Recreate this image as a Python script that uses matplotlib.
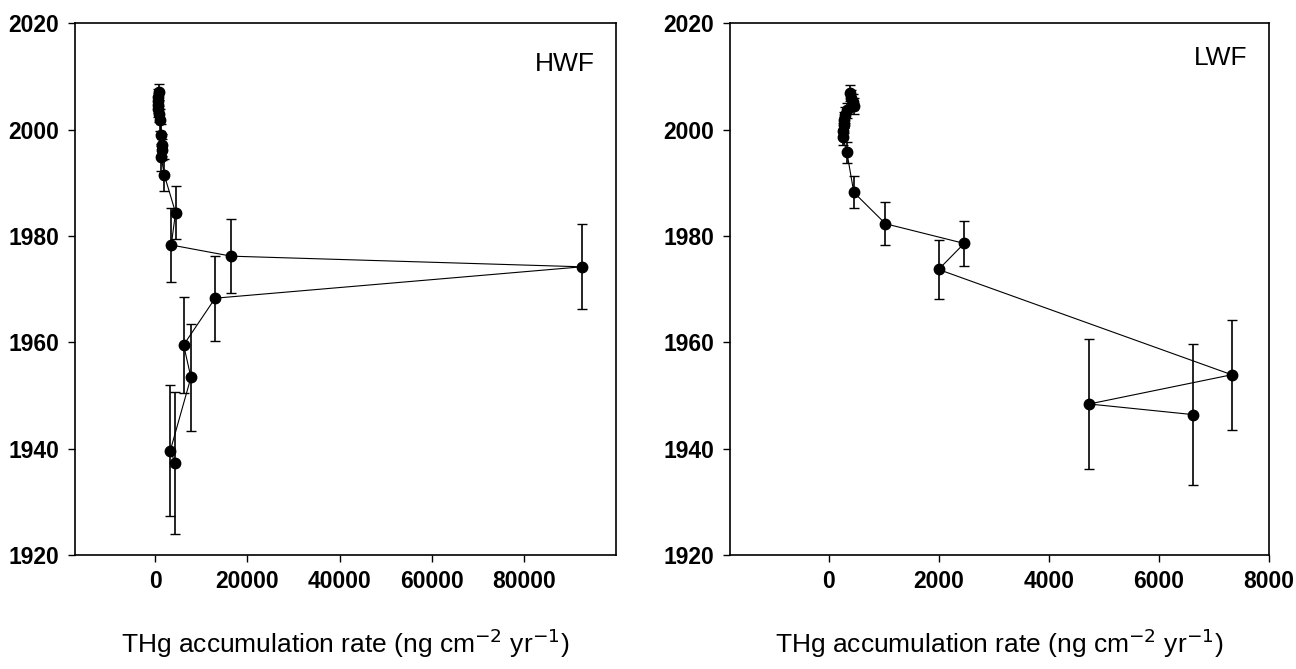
import numpy as np
import matplotlib
matplotlib.use("Agg")
import matplotlib.pyplot as plt

# HWF core
hwf_year = [2007.0, 2006.2, 2005.4, 2004.6, 2003.8, 2003.0, 2001.8, 1999.0, 1997.1, 1996.2,
            1994.8, 1991.5, 1984.4, 1978.3, 1976.2, 1974.2, 1968.3, 1959.5, 1953.4, 1939.6, 1937.3]
hwf_rate = [800, 700, 650, 600, 650, 750, 1100, 1300, 1450, 1450,
            1300, 1950, 4400, 3470, 16500, 92600, 13000, 6150, 7740, 3250, 4340]
hwf_err = [1.5, 1.5, 1.5, 1.5, 1.5, 1.5, 2, 2, 2, 2,
           2.5, 3, 5, 6.9, 7, 8, 8, 9, 10, 12.3, 13.4]

# LWF core
lwf_year = [2006.8, 2006.0, 2005.2, 2004.5, 2003.6, 2002.7, 2001.8, 2000.8, 1999.8, 1998.7,
            1995.7, 1988.2, 1982.3, 1978.6, 1973.7, 1953.9, 1948.4, 1946.4]
lwf_rate = [380, 400, 440, 450, 330, 300, 280, 270, 260, 250,
            330, 455, 1030, 2460, 1995, 7320, 4730, 6620]
lwf_err = [1.5, 1.5, 1.5, 1.5, 1.5, 1.5, 1.5, 1.5, 1.5, 1.5,
           2, 3, 4, 4.3, 5.5, 10.3, 12.2, 13.3]

plt.rcParams['font.family'] = ['Liberation Sans', 'DejaVu Sans']

fig = plt.figure(figsize=(12.96, 6.69), dpi=100)
ax1 = fig.add_axes([0.0576, 0.1704, 0.4177, 0.7948])
ax2 = fig.add_axes([0.563, 0.1704, 0.4163, 0.7948])

panels = [
    (ax1, hwf_rate, hwf_year, hwf_err, "HWF", (-17500, 100000), np.arange(0, 80001, 20000), 0.961, 0.923),
    (ax2, lwf_rate, lwf_year, lwf_err, "LWF", (-1800, 8000), np.arange(0, 8001, 2000), 0.959, 0.934),
]

for ax, x, y, e, name, xlim, xt, tx, ty in panels:
    ax.errorbar(x, y, yerr=e, fmt='none', ecolor='black', elinewidth=1.2,
                capsize=3.6, capthick=1.0)
    ax.plot(x, y, color='black', linewidth=0.8, marker='o', markersize=7.5,
            markerfacecolor='black', markeredgecolor='black')
    ax.set_xlim(*xlim)
    ax.set_ylim(1920, 2020)
    ax.set_xticks(xt)
    ax.set_yticks(np.arange(1920, 2021, 20))
    ax.tick_params(direction='out', length=5, width=1, labelsize=16.5, pad=6)
    for lab in ax.get_xticklabels() + ax.get_yticklabels():
        lab.set_fontweight('bold')
    for sp in ax.spines.values():
        sp.set_linewidth(1.2)
    ax.text(tx, ty, name, transform=ax.transAxes, ha='right', va='center', fontsize=19)
    ax.set_xlabel(r"THg accumulation rate (ng cm$^{-2}$ yr$^{-1}$)", fontsize=19, labelpad=24)

fig.savefig("out.png", dpi=100)
